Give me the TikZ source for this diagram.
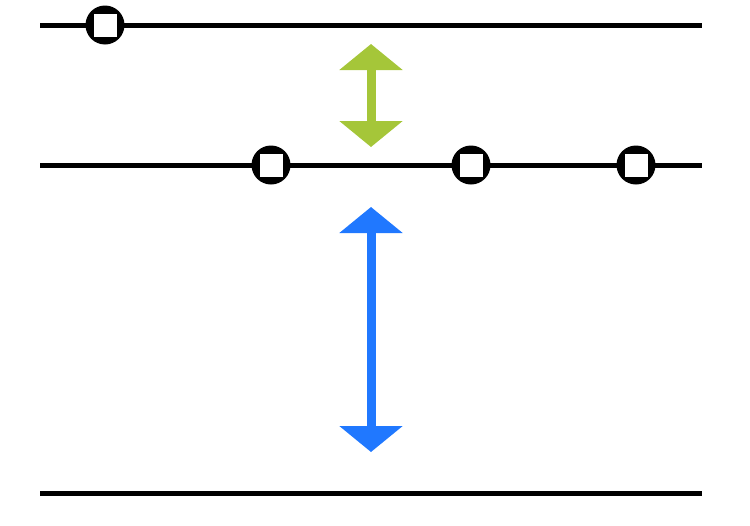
\documentclass[tikz,border=0pt]{standalone}
\usepackage{tikz}
\usetikzlibrary{arrows.meta}
\definecolor{verde}{RGB}{165,198,57}
\definecolor{azul}{RGB}{32,120,255}

\begin{document}
\begin{tikzpicture}[x=0.02cm, y=-0.02cm,
  linea/.style={line width=0.1cm},
  puerto/.style={circle, fill=black, inner sep=0pt, minimum size=0.78cm,
    path picture={\fill[white] ([shift={(-0.23cm,-0.23cm)}]path picture bounding box.center) rectangle ++(0.46cm,0.46cm);}},
  flecha/.style={line width=0.18cm, {Triangle[width=1.24cm,length=0.52cm]}-{Triangle[width=1.24cm,length=0.52cm]}}]

\useasboundingbox (0,0) rectangle (750,525);

% Extremos de las lineas
\coordinate (a1) at (40,25);  \coordinate (a2) at (702,25);
\coordinate (b1) at (40,165); \coordinate (b2) at (702,165);
\coordinate (c1) at (40,493); \coordinate (c2) at (702,493);

% Lineas horizontales
\draw[linea] (a1) -- (a2);
\draw[linea] (b1) -- (b2);
\draw[linea] (c1) -- (c2);

% Puertos sobre las lineas
\node[puerto] (p1) at (105,25) {};
\node[puerto] (p2) at (271,165) {};
\node[puerto] (p3) at (471,165) {};
\node[puerto] (p4) at (636,165) {};

% Flechas dobles
\coordinate (g1) at (371,44);  \coordinate (g2) at (371,147);
\coordinate (z1) at (371,207); \coordinate (z2) at (371,452);
\draw[flecha, verde] (g1) -- (g2);
\draw[flecha, azul] (z1) -- (z2);

\end{tikzpicture}
\end{document}
